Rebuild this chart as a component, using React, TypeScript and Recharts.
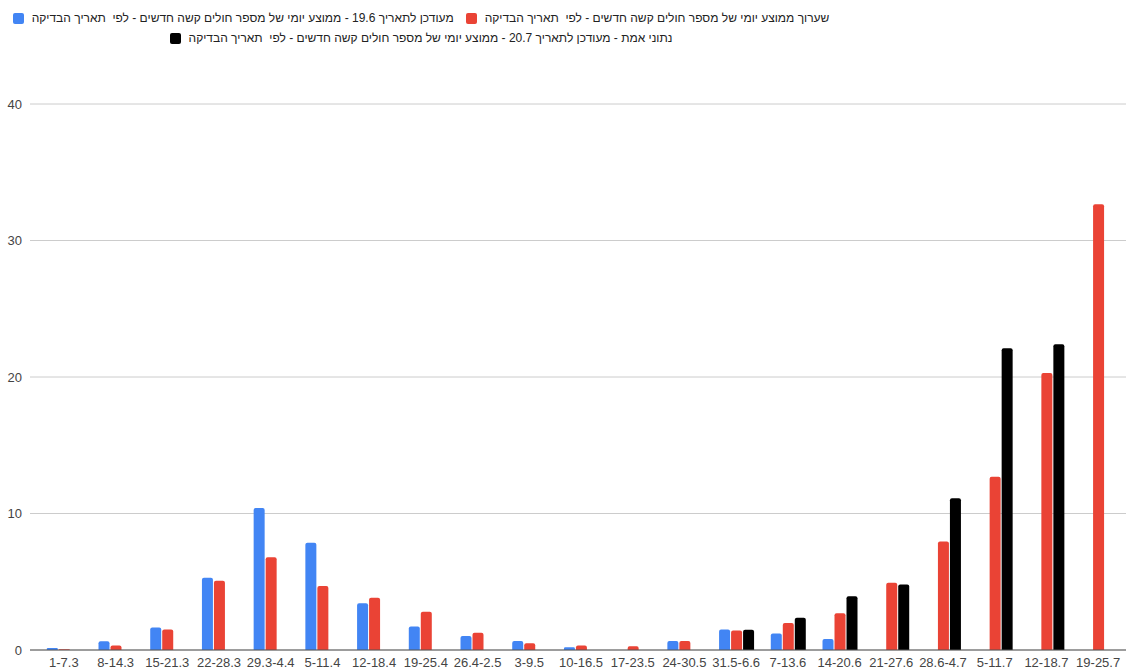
import React from 'react';
import { BarChart, Bar, XAxis, YAxis, CartesianGrid } from 'recharts';

const categories = [
  '1-7.3', '8-14.3', '15-21.3', '22-28.3', '29.3-4.4', '5-11.4', '12-18.4', '19-25.4',
  '26.4-2.5', '3-9.5', '10-16.5', '17-23.5', '24-30.5', '31.5-6.6', '7-13.6', '14-20.6',
  '21-27.6', '28.6-4.7', '5-11.7', '12-18.7', '19-25.7',
];

const blueValues = [0.15, 0.65, 1.65, 5.3, 10.4, 7.85, 3.42, 1.73, 1.03, 0.66, 0.2, null, 0.66, 1.5, 1.2, 0.8, null, null, null, null, null];
const redValues = [0.05, 0.33, 1.5, 5.07, 6.79, 4.69, 3.83, 2.81, 1.27, 0.49, 0.33, 0.27, 0.66, 1.42, 1.98, 2.69, 4.93, 7.95, 12.7, 20.3, 32.65];
const blackValues = [null, null, null, null, null, null, null, null, null, null, null, null, null, 1.49, 2.37, 3.93, 4.79, 11.12, 22.1, 22.4, null];

const yTicks = [0, 10, 20, 30, 40];

const BLUE_NAME = 'מעודכן לתאריך 19.6 - ממוצע יומי של מספר חולים קשה חדשים - לפי  תאריך הבדיקה';
const RED_NAME = 'שערוך ממוצע יומי של מספר חולים קשה חדשים - לפי  תאריך הבדיקה';
const BLACK_NAME = 'נתוני אמת - מעודכן לתאריך 20.7 - ממוצע יומי של מספר חולים קשה חדשים - לפי  תאריך הבדיקה';

const BLUE = '#4285f4';
const RED = '#ea4335';
const BLACK = '#000000';

const FONT = "Arial, 'Liberation Sans', sans-serif";

const data = categories.map((name, i) => ({
  name,
  blue: blueValues[i],
  red: redValues[i],
  black: blackValues[i],
}));

const LegendItem = ({ color, label }: { color: string; label: string }) => (
  <div style={{ display: 'flex', alignItems: 'center', margin: '0 6px' }}>
    <span style={{ width: 11, height: 11, background: color, borderRadius: 2, marginRight: 8, flexShrink: 0 }} />
    <span dir="rtl" style={{ whiteSpace: 'pre', fontSize: 12, color: '#222' }}>{label}</span>
  </div>
);

// legend sits above the plot, centred on x≈420 like the original
const ChartLegend = () => (
  <div style={{ position: 'absolute', top: 8, left: 1, width: 840, fontFamily: FONT, direction: 'ltr' }}>
    <div style={{ display: 'flex', justifyContent: 'center', height: 20 }}>
      <LegendItem color={BLUE} label={BLUE_NAME} />
      <LegendItem color={RED} label={RED_NAME} />
    </div>
    <div style={{ display: 'flex', justifyContent: 'center', height: 20 }}>
      <LegendItem color={BLACK} label={BLACK_NAME} />
    </div>
  </div>
);

const App: React.FC = () => {
  return (
    <div style={{ position: 'absolute', top: 0, left: 0, width: 1126, height: 671, background: '#fff' }}>
      <BarChart
        width={1126}
        height={671}
        data={data}
        margin={{ top: 104, right: 0, left: 0, bottom: 0 }}
        barCategoryGap="17%"
        barGap={1}
      >
        <CartesianGrid vertical={false} stroke="#cccccc" />
        <XAxis
          dataKey="name"
          interval={0}
          height={21}
          padding={{ left: 8, right: 2 }}
          tickLine={false}
          tickSize={0}
          tickMargin={8}
          axisLine={{ stroke: '#555' }}
          tick={{ fontSize: 13, fill: '#444', fontFamily: FONT }}
        />
        <YAxis
          width={30}
          domain={[0, 40]}
          ticks={yTicks}
          axisLine={false}
          tickLine={false}
          tickSize={0}
          tickMargin={8}
          tick={{ fontSize: 13, fill: '#444', fontFamily: FONT }}
        />
        <Bar dataKey="blue" name={BLUE_NAME} fill={BLUE} radius={[2, 2, 0, 0]} isAnimationActive={false} />
        <Bar dataKey="red" name={RED_NAME} fill={RED} radius={[2, 2, 0, 0]} isAnimationActive={false} />
        <Bar dataKey="black" name={BLACK_NAME} fill={BLACK} radius={[2, 2, 0, 0]} isAnimationActive={false} />
      </BarChart>
      <ChartLegend />
    </div>
  );
};

export default App;
